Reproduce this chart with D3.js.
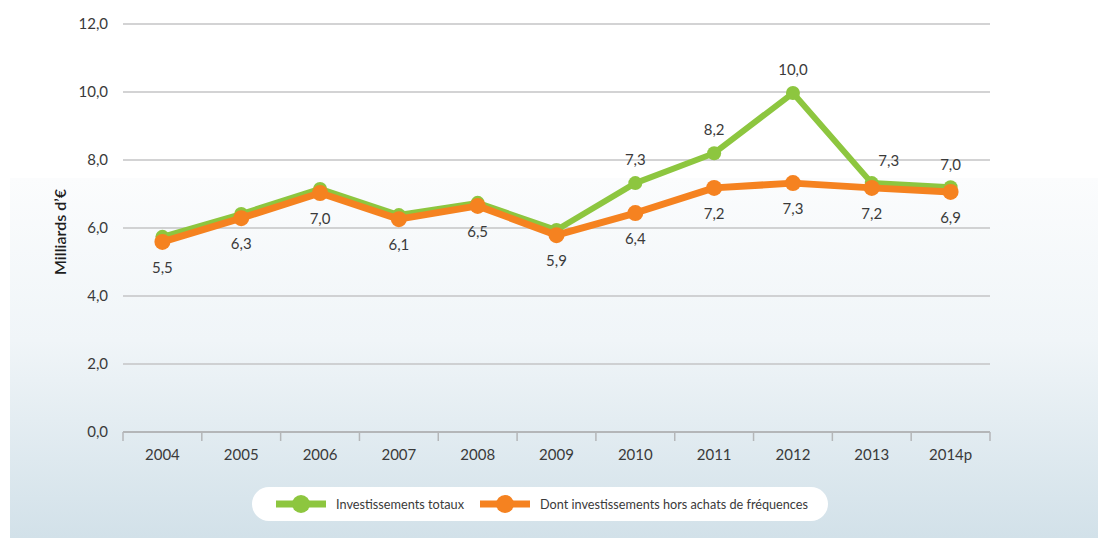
<!DOCTYPE html>
<html>
<head>
<meta charset="utf-8">
<script src="https://cdn.jsdelivr.net/npm/d3@7"></script>
<style>
  body { margin: 0; background: #fff; }
  svg { display: block; font-family: Lato, "DejaVu Sans Condensed", sans-serif; }
</style>
</head>
<body>
<svg id="chart"></svg>
<script>
// data
const years = ["2004", "2005", "2006", "2007", "2008", "2009", "2010", "2011", "2012", "2013", "2014p"];
const totalValues = [5.74, 6.41, 7.15, 6.38, 6.74, 5.94, 7.32, 8.2, 9.97, 7.32, 7.2];
const horsFreqValues = [5.59, 6.29, 7.03, 6.26, 6.65, 5.79, 6.44, 7.18, 7.32, 7.18, 7.06];
const totalLabels = [null, null, null, null, null, null, "7,3", "8,2", "10,0", "7,3", "7,0"];
const horsFreqLabels = ["5,5", "6,3", "7,0", "6,1", "6,5", "5,9", "6,4", "7,2", "7,3", "7,2", "6,9"];
const yTicks = [0, 2, 4, 6, 8, 10, 12];
const seriesNames = ["Investissements totaux", "Dont investissements hors achats de fréquences"];

const width = 1098;
const height = 538;
const plotLeft = 123, plotRight = 990, plotTop = 24, plotBottom = 432;
const green = "#8dc63f";
const orange = "#f58220";
const textColor = "#3a3a3a";
const font = "Lato, DejaVu Sans Condensed, sans-serif";

const svg = d3.select("#chart")
  .attr("width", width)
  .attr("height", height);

// background panel
const defs = svg.append("defs");
const grad = defs.append("linearGradient")
  .attr("id", "bg")
  .attr("x1", 0).attr("y1", 0).attr("x2", 0).attr("y2", 1);
grad.append("stop").attr("offset", "0%").attr("stop-color", "#fbfcfd");
grad.append("stop").attr("offset", "45%").attr("stop-color", "#f0f5f8");
grad.append("stop").attr("offset", "100%").attr("stop-color", "#d2e1e9");

svg.append("rect")
  .attr("x", 10).attr("y", 178)
  .attr("width", width - 10).attr("height", height - 178)
  .attr("fill", "url(#bg)");

const xScale = d3.scaleBand()
  .domain(years)
  .range([plotLeft, plotRight])
  .padding(0);

const yScale = d3.scaleLinear()
  .domain([0, 12])
  .range([plotBottom, plotTop]);

// gridlines
svg.append("g")
  .selectAll("line")
  .data(yTicks.filter(d => d > 0))
  .enter()
  .append("line")
  .attr("x1", plotLeft)
  .attr("x2", plotRight)
  .attr("y1", d => yScale(d))
  .attr("y2", d => yScale(d))
  .attr("stroke", "#c4c4c6")
  .attr("stroke-width", 1.5);

// y axis labels
const yAxis = d3.axisLeft(yScale)
  .tickValues(yTicks)
  .tickSize(0)
  .tickPadding(15)
  .tickFormat(d => d3.format(".1f")(d).replace(".", ","));

svg.append("g")
  .attr("transform", `translate(${plotLeft}, 0)`)
  .call(yAxis)
  .call(g => g.select(".domain").remove())
  .selectAll("text")
  .attr("fill", textColor)
  .attr("font-size", 15)
  .attr("font-family", font);

// x axis
svg.append("line")
  .attr("x1", plotLeft).attr("x2", plotRight)
  .attr("y1", plotBottom).attr("y2", plotBottom)
  .attr("stroke", "#b4b6b8")
  .attr("stroke-width", 2);

const edges = years.map(d => xScale(d)).concat([plotRight]);
svg.append("g")
  .selectAll("line")
  .data(edges)
  .enter()
  .append("line")
  .attr("x1", d => d).attr("x2", d => d)
  .attr("y1", plotBottom).attr("y2", plotBottom + 9)
  .attr("stroke", "#b4b6b8")
  .attr("stroke-width", 1.5);

const xAxis = d3.axisBottom(xScale)
  .tickSize(0)
  .tickPadding(17);

svg.append("g")
  .attr("transform", `translate(0, ${plotBottom})`)
  .call(xAxis)
  .call(g => g.select(".domain").remove())
  .selectAll("text")
  .attr("fill", textColor)
  .attr("font-size", 15)
  .attr("font-family", font);

// y axis title
svg.append("text")
  .attr("transform", `translate(66, 232) rotate(-90)`)
  .attr("text-anchor", "middle")
  .attr("fill", "#1e1e1e")
  .attr("font-size", 16)
  .attr("font-weight", 600)
  .text("Milliards d’€");

const xc = i => xScale(years[i]) + xScale.bandwidth() / 2;

const line = d3.line()
  .x((d, i) => xc(i))
  .y(d => yScale(d));

function drawSeries(values, color, lw, r) {
  svg.append("path")
    .datum(values)
    .attr("fill", "none")
    .attr("stroke", color)
    .attr("stroke-width", lw)
    .attr("stroke-linejoin", "round")
    .attr("d", line);

  svg.append("g")
    .selectAll("circle")
    .data(values)
    .enter()
    .append("circle")
    .attr("cx", (d, i) => xc(i))
    .attr("cy", d => yScale(d))
    .attr("r", r)
    .attr("fill", color);
}

drawSeries(totalValues, green, 6, 7);
drawSeries(horsFreqValues, orange, 7, 8);

// value labels
const idx = d3.range(years.length);

svg.append("g")
  .selectAll("text")
  .data(idx.filter(i => totalLabels[i] !== null))
  .enter()
  .append("text")
  .attr("x", i => xc(i) + (years[i] === "2013" ? 17 : 0))
  .attr("y", i => yScale(totalValues[i]) - (years[i] === "2013" || years[i] === "2014p" ? 17 : 18))
  .attr("text-anchor", "middle")
  .attr("fill", textColor)
  .attr("font-size", 15)
  .text(i => totalLabels[i]);

svg.append("g")
  .selectAll("text")
  .data(idx)
  .enter()
  .append("text")
  .attr("x", i => xc(i))
  .attr("y", i => yScale(horsFreqValues[i]) + 31)
  .attr("text-anchor", "middle")
  .attr("fill", textColor)
  .attr("font-size", 15)
  .text(i => horsFreqLabels[i]);

// legend
const legend = svg.append("g");
legend.append("rect")
  .attr("x", 252).attr("y", 487)
  .attr("width", 576).attr("height", 34)
  .attr("rx", 17)
  .attr("fill", "#fff");

const legendItems = [
  { name: seriesNames[0], color: green, x: 276 },
  { name: seriesNames[1], color: orange, x: 480 }
];

legendItems.forEach(item => {
  legend.append("line")
    .attr("x1", item.x).attr("x2", item.x + 50)
    .attr("y1", 504).attr("y2", 504)
    .attr("stroke", item.color)
    .attr("stroke-width", 7);
  legend.append("circle")
    .attr("cx", item.x + 25).attr("cy", 504)
    .attr("r", 9)
    .attr("fill", item.color);
  legend.append("text")
    .attr("x", item.x + 60).attr("y", 509)
    .attr("fill", textColor)
    .attr("font-size", 14)
    .attr("textLength", item.x === 276 ? 128 : 268)
    .attr("lengthAdjust", "spacingAndGlyphs")
    .text(item.name);
});
</script>
</body>
</html>
